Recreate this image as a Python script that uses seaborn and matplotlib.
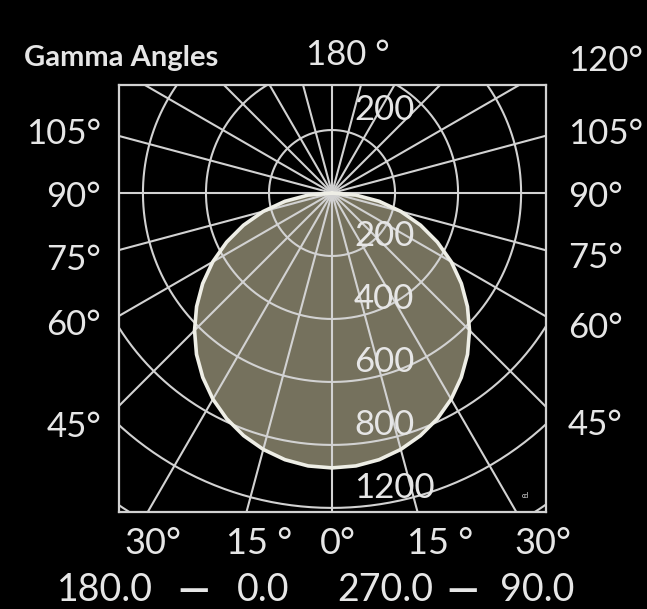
import numpy as np
import pandas as pd
import matplotlib
matplotlib.use("Agg")
import matplotlib.pyplot as plt
import seaborn as sns

# ---------------- data ----------------
gamma_deg = [0, 5, 10, 15, 20, 25, 30, 35, 40, 45, 50, 55, 60, 65, 70, 75, 80, 85, 90]
# luminous intensity (cd), C0-180 plane and C90-270 plane (identical in the picture)
intensity_c0_180 = [873, 870, 860, 843, 820, 791, 756, 715, 669, 617, 561, 501, 437, 369, 299, 226, 152, 76, 0]
intensity_c90_270 = [873, 870, 860, 843, 820, 791, 756, 715, 669, 617, 561, 501, 437, 369, 299, 226, 152, 76, 0]

radial_circles = [200, 400, 600, 800, 1000, 1200]
radial_labels = ["200", "400", "600", "800", "1200"]
ray_angles = list(range(0, 360, 15))

left_labels = ["105°", "90°", "75°", "60°", "45°"]
right_labels = ["105°", "90°", "75°", "60°", "45°"]
bottom_labels = ["30°", "15 °", "0°", "15 °", "30°"]
top_label = "180 °"
corner_label = "120°"
title_label = "Gamma Angles"
plane_parts = ["180.0", "—", "0.0", "270.0", "—", "90.0"]

# ---------------- style ----------------
sns.set_theme(style="dark")
plt.rcParams["font.family"] = ["Lato", "DejaVu Sans"]

BG = "black"
GRID = "#d2d2d2"
FILL = "#75715d"
OUTLINE = "#eeeee6"
TXT = "#e6e6e6"

W, H = 647, 609
fig = plt.figure(figsize=(W / 100, H / 100), dpi=100, facecolor=BG)
ax = fig.add_axes([119 / W, 1 - 512 / H, 427 / W, 427 / H])
ax.set_facecolor(BG)
ax.set_xlim(-676, 679)
ax.set_ylim(-1013, 343)
ax.set_xticks([])
ax.set_yticks([])
for sp in ax.spines.values():
    sp.set_color(GRID)
    sp.set_linewidth(1.6)
    sp.set_visible(True)
ax.grid(False)

# ---------------- intensity curve ----------------
g = np.radians(np.array(gamma_deg, dtype=float))
I_left = np.array(intensity_c0_180, dtype=float)
I_right = np.array(intensity_c90_270, dtype=float)
xs = np.concatenate([-(I_left * np.sin(g))[::-1], (I_right * np.sin(g))[1:]])
ys = np.concatenate([-(I_left * np.cos(g))[::-1], -(I_right * np.cos(g))[1:]])
curve = pd.DataFrame({"x": xs, "y": ys})

ax.fill(curve["x"], curve["y"], color=FILL, zorder=1, lw=0)

# ---------------- polar grid ----------------
t = np.linspace(0, 2 * np.pi, 400)
for r in radial_circles:
    ax.plot(r * np.cos(t), r * np.sin(t), color=GRID, lw=1.5, zorder=2)
for a in ray_angles:
    ar = np.radians(a)
    ax.plot([0, 2000 * np.sin(ar)], [0, -2000 * np.cos(ar)], color=GRID, lw=1.5, zorder=2)

sns.lineplot(data=curve, x="x", y="y", sort=False, estimator=None,
             color=OUTLINE, lw=2.6, ax=ax, zorder=3)
ax.set_xlabel("")
ax.set_ylabel("")

# inner radial labels
ax.text(70, 263, radial_labels[0], color=TXT, fontsize=25, ha="left", va="center", zorder=4)
for r, lab in zip(radial_circles[:5], radial_labels):
    ax.text(70, -r + 63, lab, color=TXT, fontsize=25, ha="left", va="center", zorder=4)
ax.text(613, -962, "cd", color=TXT, fontsize=5, ha="center", va="center", zorder=4)


def ftext(xp, yp, s, **kw):
    kw.setdefault("color", TXT)
    fig.text(xp / W, 1 - yp / H, s, **kw)


ftext(24, 58, title_label, fontsize=21, ha="left", va="center", fontweight="bold")
ftext(348, 55, top_label, fontsize=25, ha="center", va="center")
ftext(568, 61, corner_label, fontsize=25, ha="left", va="center")

left_y = [134, 197, 260, 325, 427]
right_y = [134, 197, 258, 328, 425]
for s, y in zip(left_labels, left_y):
    ftext(101, y, s, fontsize=25, ha="right", va="center")
for s, y in zip(right_labels, right_y):
    ftext(568, y, s, fontsize=25, ha="left", va="center")

bottom_x = [153, 259, 338, 440, 543]
for s, x in zip(bottom_labels, bottom_x):
    ftext(x, 544, s, fontsize=26, ha="center", va="center")

plane_x = [105, 194, 263, 385, 463, 537]
for s, x in zip(plane_parts, plane_x):
    if s == "—":
        ftext(x, 590, s, fontsize=22, ha="center", va="center",
              family="DejaVu Sans", fontweight="bold")
    else:
        ftext(x, 590, s, fontsize=27, ha="center", va="center")

fig.savefig("out.png", dpi=100, facecolor=BG)
